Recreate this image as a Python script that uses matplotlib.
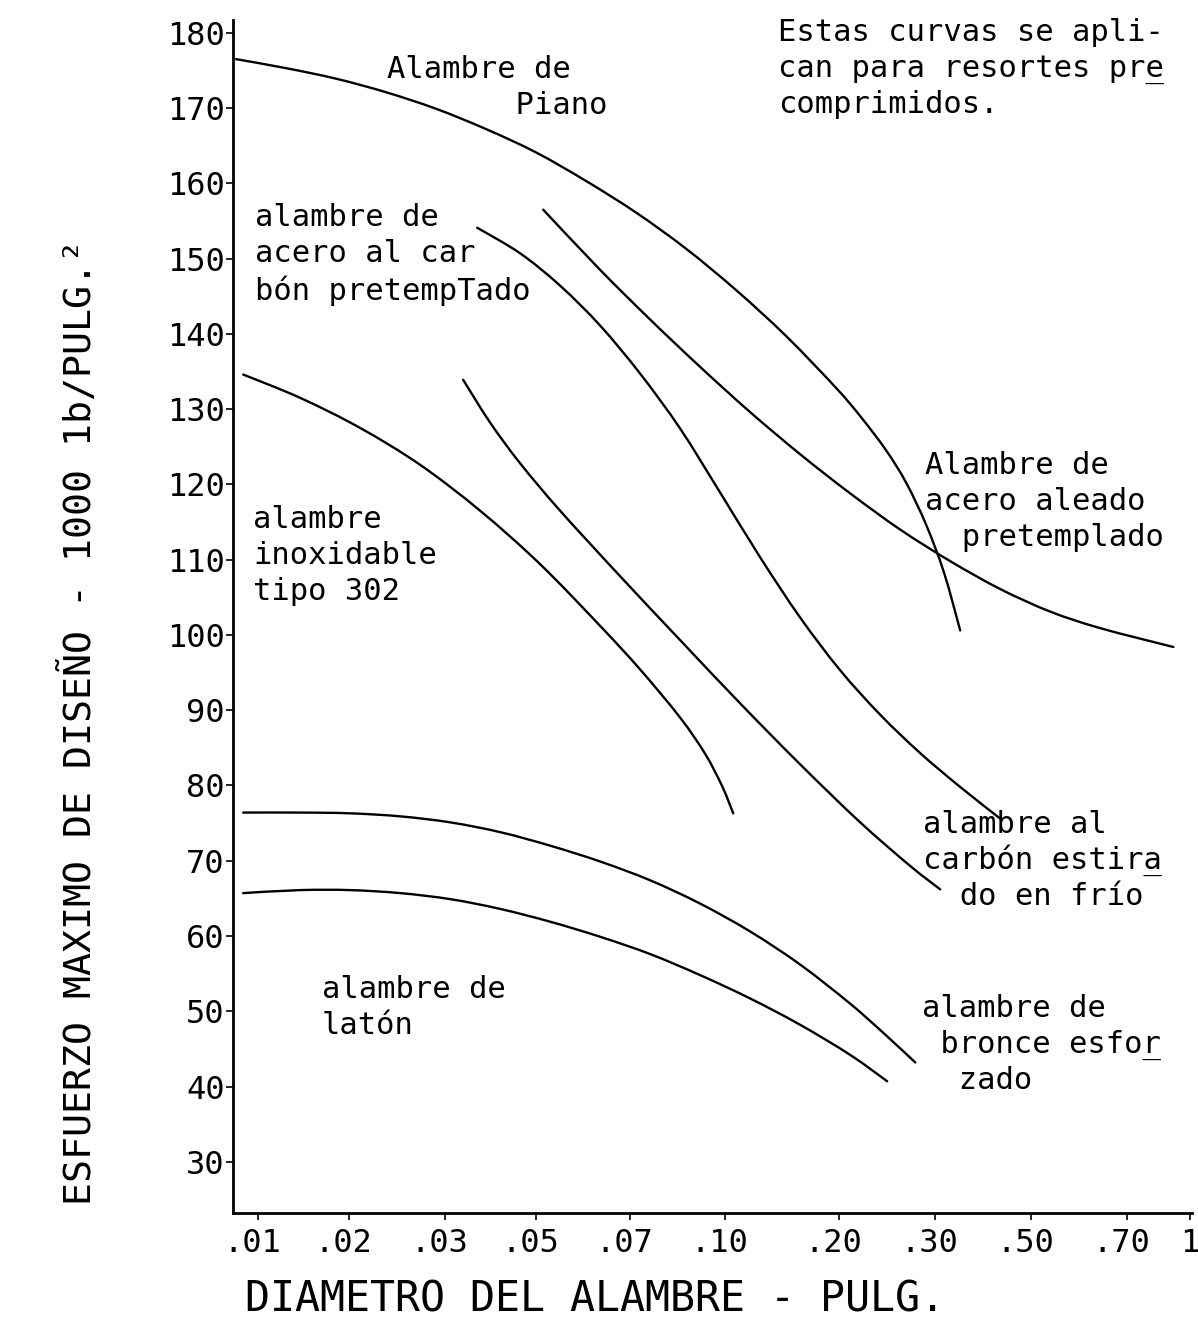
import matplotlib
matplotlib.use('Agg')
import matplotlib.pyplot as plt
import matplotlib.transforms as mtransforms
from matplotlib.path import Path
from matplotlib.patches import PathPatch
import numpy as np

plt.rcParams['font.family'] = ['DejaVu Sans Mono', 'DejaVu Sans']

# ---- data ----
# x: position along the (hand-drawn, non-uniform) diameter axis, in tick-step units
# y: design stress, 1000 lb/in^2
x_ticklabels = ['.01', '.02', '.03', '.05', '.07', '.10', '.20', '.30', '.50', '.70', '1']
x_tickpos = [0.0, 0.98, 2.01, 2.99, 4.0, 5.02, 6.25, 7.28, 8.31, 9.34, 10.02]
y_ticks = [30, 40, 50, 60, 70, 80, 90, 100, 110, 120, 130, 140, 150, 160, 170, 180]

piano_x = [-0.237, 0.301, 0.839, 1.376, 1.914, 2.452, 2.989, 3.527, 4.065, 4.602, 5.140,
           5.677, 6.215, 6.484, 6.753, 6.968, 7.183, 7.376, 7.548]
piano_y = [176.5, 175.3, 173.9, 172.1, 169.9, 167.2, 164.1, 160.3, 156.1, 151.3, 145.8,
           139.7, 132.8, 128.9, 124.5, 120.2, 114.6, 108.2, 100.6]

alloy_x = [3.065, 3.677, 4.215, 4.753, 5.290, 5.828, 6.366, 6.903, 7.441, 7.978, 8.516, 9.054, 9.839]
alloy_y = [156.5, 148.5, 141.9, 135.6, 129.6, 124.0, 118.8, 114.0, 109.8, 106.1, 103.1, 100.9, 98.4]

carbon_pt_x = [2.355, 2.817, 3.247, 3.677, 4.108, 4.538, 4.968, 5.398, 5.828, 6.258, 6.688,
               7.118, 7.548, 7.978]
carbon_pt_y = [154.1, 150.7, 146.4, 141.1, 134.7, 127.4, 118.9, 110.3, 102.3, 95.3, 89.4,
               84.3, 79.8, 75.6]

cold_x = [2.204, 2.495, 2.817, 3.247, 3.892, 4.538, 5.183, 5.828, 6.473, 7.011, 7.333]
cold_y = [133.9, 128.2, 122.8, 116.5, 107.8, 99.3, 90.9, 82.8, 75.1, 69.3, 66.2]

stainless_x = [-0.161, 0.452, 1.097, 1.742, 2.387, 3.032, 3.677, 4.108, 4.538, 4.806, 4.989, 5.108]
stainless_y = [134.6, 131.5, 127.5, 122.6, 116.5, 109.4, 101.2, 95.4, 89.0, 84.2, 79.9, 76.3]

bronze_x = [-0.161, 0.452, 0.989, 1.527, 2.065, 2.602, 3.140, 3.677, 4.215, 4.753, 5.290,
            5.828, 6.366, 6.742, 7.065]
bronze_y = [76.4, 76.4, 76.3, 75.9, 75.1, 73.8, 72.0, 69.9, 67.4, 64.3, 60.6,
            56.2, 51.0, 46.9, 43.2]

brass_x = [-0.161, 0.452, 0.989, 1.527, 2.065, 2.602, 3.140, 3.677, 4.215, 4.753, 5.290,
           5.828, 6.366, 6.763]
brass_y = [65.7, 66.1, 66.1, 65.7, 64.9, 63.6, 61.9, 59.9, 57.6, 54.8, 51.7, 48.2, 44.2, 40.7]

# ---- figure ----
W, H = 1198, 1328
fig = plt.figure(figsize=(W / 100, H / 100), dpi=100)
ax = fig.add_axes([233 / W, (H - 1213) / H, (1192 - 233) / W, (1213 - 20) / H])


def smooth_curve(ax, xs, ys, **kw):
    """Draw a smooth (Catmull-Rom as cubic Bezier) curve through the data points."""
    P = np.column_stack([xs, ys]).astype(float)
    n = len(P)
    verts = [P[0]]
    codes = [Path.MOVETO]
    for i in range(n - 1):
        p0 = P[i - 1] if i > 0 else P[i]
        p1 = P[i]
        p2 = P[i + 1]
        p3 = P[i + 2] if i + 2 < n else P[i + 1]
        c1 = p1 + (p2 - p0) / 6.0
        c2 = p2 - (p3 - p1) / 6.0
        verts += [c1, c2, p2]
        codes += [Path.CURVE4] * 3
    patch = PathPatch(Path(verts, codes), fill=False, transform=ax.transData, **kw)
    ax.add_patch(patch)


for xs, ys in [(piano_x, piano_y), (alloy_x, alloy_y), (carbon_pt_x, carbon_pt_y),
               (cold_x, cold_y), (stainless_x, stainless_y), (bronze_x, bronze_y),
               (brass_x, brass_y)]:
    smooth_curve(ax, xs, ys, edgecolor='black', lw=1.7, capstyle='round', joinstyle='round')

ax.set_xlim(-0.27, 10.04)
ax.set_ylim(23.2, 181.7)
ax.set_xticks(x_tickpos)
ax.set_xticklabels(x_ticklabels)
ax.set_yticks(y_ticks)
ax.set_yticklabels([str(v) for v in y_ticks])
for s in ['top', 'right']:
    ax.spines[s].set_visible(False)
for s in ['left', 'bottom']:
    ax.spines[s].set_linewidth(2.0)
ax.tick_params(axis='y', direction='out', length=5, width=1.2, pad=1, labelsize=23)
ax.tick_params(axis='x', direction='out', length=5, width=1.2, pad=6, labelsize=23)
shift = mtransforms.ScaledTranslation(-6 / 100, 0, fig.dpi_scale_trans)
for lab in ax.get_xticklabels()[:-1]:
    lab.set_transform(lab.get_transform() + shift)


def fx(px):
    return px / W


def fy(py):
    return 1 - py / H


fs = 22
ls = 1.3
# (left px, top px, text, list of (line index, column) to underline)
texts = [
    (387, 55, "Alambre de\n       Piano", []),
    (778, 18, "Estas curvas se apli-\ncan para resortes pre\ncomprimidos.", [(1, 20)]),
    (255, 203, "alambre de\nacero al car\nbón pretempTado", []),
    (253, 505, "alambre\ninoxidable\ntipo 302", []),
    (925, 451, "Alambre de\nacero aleado\n  pretemplado", []),
    (923, 810, "alambre al\ncarbón estira\n  do en frío", [(1, 12)]),
    (922, 994, "alambre de\n bronce esfor\n  zado", [(1, 12)]),
    (322, 975, "alambre de\nlatón", []),
]
for px, py, t, unders in texts:
    fig.text(fx(px), fy(py), t, fontsize=fs, ha='left', va='top', linespacing=ls)
    src = t.split("\n")
    for li, col in unders:
        # invisible first line keeps the same vertical metrics; only "_" is drawn
        lines = [" " * len(s) for s in src]
        lines[0] = src[0]
        lines[li] = " " * col + "_"
        ov = fig.text(fx(px), fy(py), "\n".join(lines), fontsize=fs, ha='left',
                      va='top', linespacing=ls)
        if li != 0:
            lines[0] = " " * len(src[0])
            ov.set_text("\n".join(lines))

fig.text(fx(80), fy(722), "ESFUERZO MAXIMO DE DISEÑO - 1000 1b/PULG.²",
         rotation=90, ha='center', va='center', fontsize=27.5)
fig.text(fx(595), fy(1300), "DIAMETRO DEL ALAMBRE - PULG.",
         ha='center', va='center', fontsize=30)

fig.savefig('out.png', dpi=100, facecolor='white')
